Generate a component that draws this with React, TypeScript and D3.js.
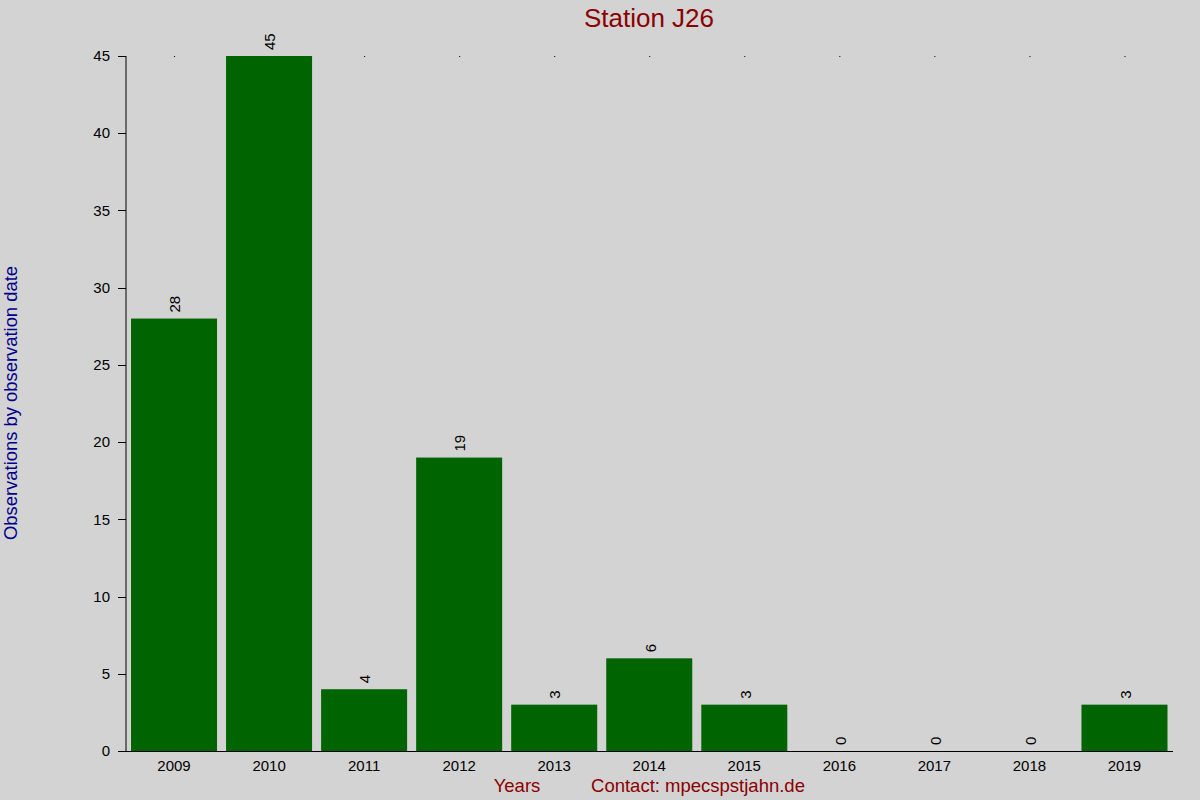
import React from "react";
import * as d3 from "d3";

const years = ["2009","2010","2011","2012","2013","2014","2015","2016","2017","2018","2019"];
const counts = [28, 45, 4, 19, 3, 6, 3, 0, 0, 0, 3];
const yTicks = [0, 5, 10, 15, 20, 25, 30, 35, 40, 45];

const W = 1200, H = 800;
const FONT = "'Liberation Sans', Arial, sans-serif";

export default function App() {
  const x = d3.scaleBand<string>().domain(years).range([126.5, 1172]).paddingInner(0.095).paddingOuter(0.0475);
  const y = d3.scaleLinear().domain([0, 45]).range([751, 56]);
  const bw = x.bandwidth();
  return (
    <svg width={W} height={H} style={{ position: "absolute", left: 0, top: 0 }} fontFamily={FONT}>
      <rect x={0} y={0} width={W} height={H} fill="#d3d3d3" />
      <text x={649} y={27} textAnchor="middle" fontSize={26} fill="#8b0000">Station J26</text>
      {years.map((yr) => (
        <rect key={"dot" + yr} x={(x(yr) as number) + bw / 2} y={y(45)} width={1} height={1} fill="#000" />
      ))}
      {years.map((yr, i) => (
        <rect key={yr} x={x(yr)} y={y(counts[i])} width={bw} height={y(0) - y(counts[i])} fill="#006400" />
      ))}
      {years.map((yr, i) => {
        const cx = (x(yr) as number) + bw / 2 + 1;
        const ty = y(counts[i]) - 6;
        return (
          <text key={"v" + yr} transform={`translate(${cx},${ty}) rotate(-90)`} dy="0.35em" fontSize={15} fill="#000">{counts[i]}</text>
        );
      })}
      <line x1={126} x2={126} y1={y(45)} y2={y(0)} stroke="#000" strokeWidth={1} />
      <line x1={118} x2={1173} y1={751.5} y2={751.5} stroke="#000" strokeWidth={1} />
      {yTicks.map((t) => (
        <g key={"t" + t}>
          <line x1={118} x2={126} y1={Math.round(y(t)) + 0.5} y2={Math.round(y(t)) + 0.5} stroke="#000" />
          <text x={110} y={y(t)} dy="0.35em" textAnchor="end" fontSize={15} fill="#000">{t}</text>
        </g>
      ))}
      {years.map((yr) => (
        <text key={"xl" + yr} x={(x(yr) as number) + bw / 2} y={771} textAnchor="middle" fontSize={15} fill="#000">{yr}</text>
      ))}
      <text transform={`translate(17,403) rotate(-90)`} textAnchor="middle" fontSize={18.4} fill="#00008b">Observations by observation date</text>
      <text x={517} y={792} textAnchor="middle" fontSize={18.5} fill="#8b0000">Years</text>
      <text x={698} y={792} textAnchor="middle" fontSize={18.5} fill="#8b0000">Contact: mpecspstjahn.de</text>
    </svg>
  );
}
